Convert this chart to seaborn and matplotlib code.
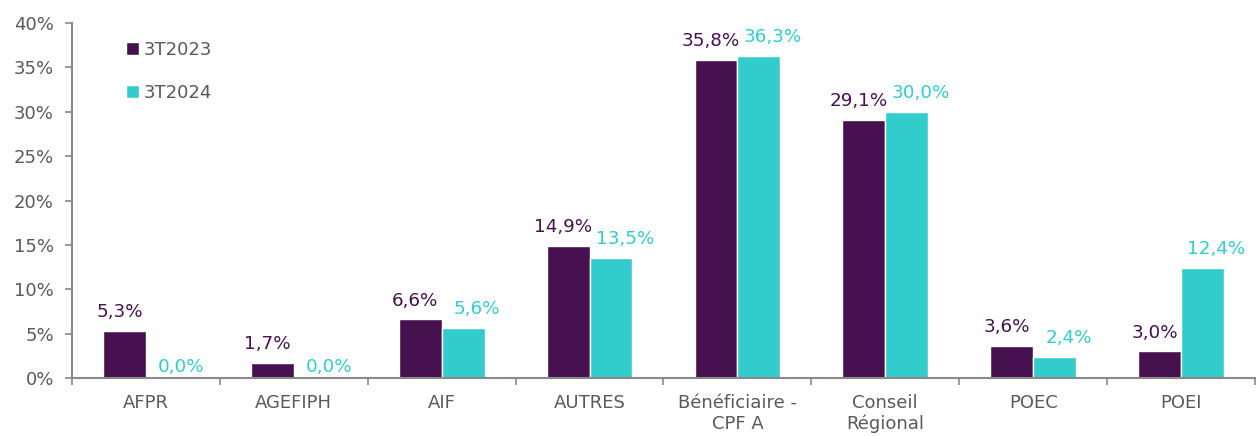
import pandas as pd
import matplotlib
matplotlib.use("Agg")
import matplotlib.pyplot as plt
import seaborn as sns
from matplotlib.ticker import FuncFormatter, FixedLocator

categories = ["AFPR", "AGEFIPH", "AIF", "AUTRES", "Bénéficiaire -\nCPF A",
              "Conseil\nRégional", "POEC", "POEI"]
series = ["3T2023", "3T2024"]
values_2023 = [5.3, 1.7, 6.6, 14.9, 35.8, 29.1, 3.6, 3.0]
values_2024 = [0.0, 0.0, 5.6, 13.5, 36.3, 30.0, 2.4, 12.4]
colors = ["#46114E", "#33CCCC"]

df = pd.DataFrame({
    "categorie": categories * 2,
    "serie": [series[0]] * len(categories) + [series[1]] * len(categories),
    "valeur": values_2023 + values_2024,
})

sns.set_style("white")
plt.rcParams["font.family"] = ["DejaVu Sans"]

fig, ax = plt.subplots(figsize=(12.58, 4.36), dpi=100)
fig.subplots_adjust(left=0.0572, right=0.9976, bottom=0.133, top=0.947)

sns.barplot(df, x="categorie", y="valeur", hue="serie", hue_order=series,
            palette=colors, width=0.58, saturation=1, ax=ax, legend=True)

# labels pushed apart a little, like Excel does
shifts = [-3.5, 10]
for cont, col, dx in zip(ax.containers, colors, shifts):
    for bar, v in zip(cont, cont.datavalues):
        x = bar.get_x() + bar.get_width() / 2
        dy = 4.5 if v == 0 else 10
        ax.annotate(f"{v:.1f}%".replace(".", ","), (x, v), xytext=(dx, dy),
                    textcoords="offset points", ha="center", va="baseline",
                    color=col, fontsize=13.2)

ax.set_ylim(0, 40)
ax.set_xlim(-0.5, len(categories) - 0.5)
ax.set_yticks(range(0, 41, 5))
ax.yaxis.set_major_formatter(FuncFormatter(lambda v, p: f"{v:.0f}%"))
ax.set_xlabel("")
ax.set_ylabel("")

grey = "#898989"
for s in ["top", "right"]:
    ax.spines[s].set_visible(False)
for s in ["left", "bottom"]:
    ax.spines[s].set_color(grey)
    ax.spines[s].set_linewidth(1.5)

ax.tick_params(axis="y", which="major", left=True, length=5, width=1.2, color=grey,
               labelsize=13, labelcolor="#595959", pad=8)
ax.tick_params(axis="x", which="major", bottom=False, labelsize=13,
               labelcolor="#595959", pad=8)
ax.xaxis.set_minor_locator(FixedLocator([i - 0.5 for i in range(len(categories) + 1)]))
ax.tick_params(axis="x", which="minor", bottom=True, length=5, width=1.2, color=grey)

ax.legend(loc="upper left", bbox_to_anchor=(0.032, 0.995), frameon=False,
          fontsize=13, labelspacing=1.35, handlelength=0.7, handleheight=0.7,
          handletextpad=0.3, labelcolor="#595959")

fig.savefig("out.png", dpi=100)
